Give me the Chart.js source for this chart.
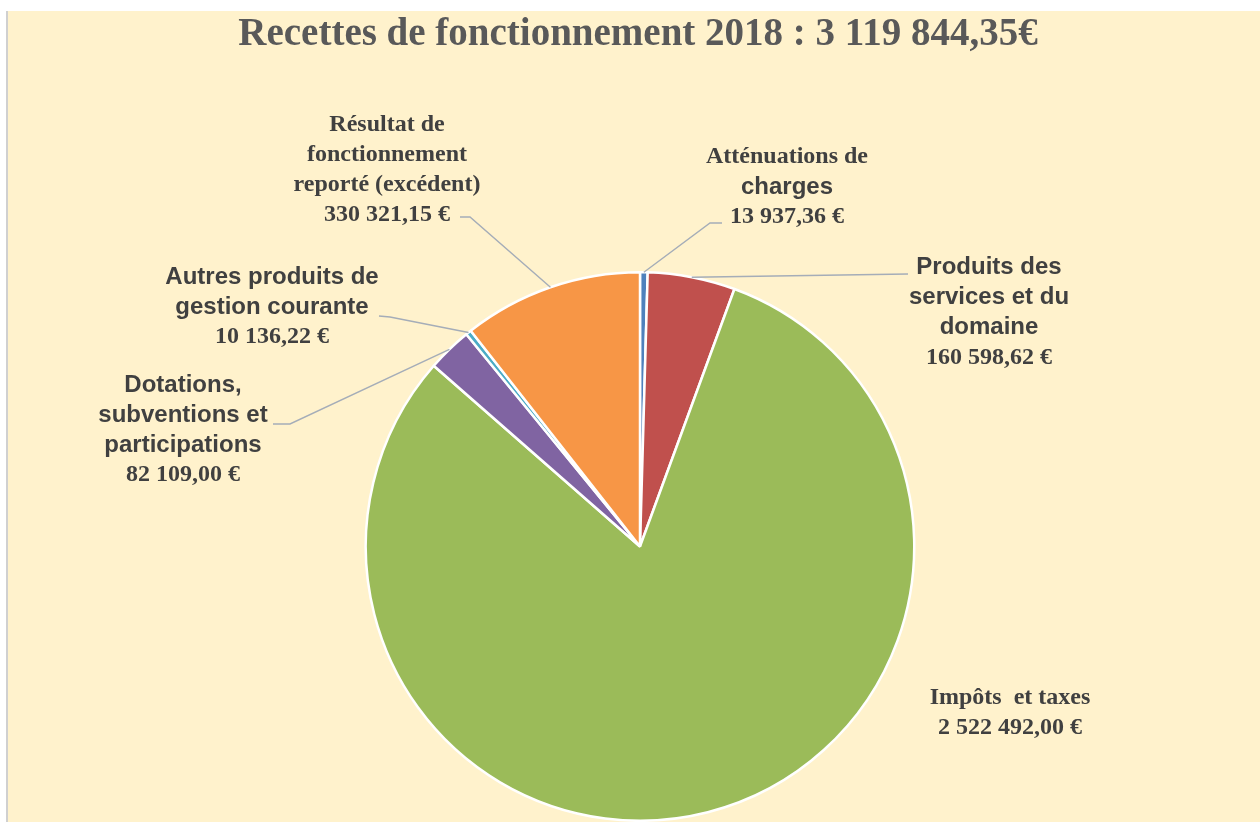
<!DOCTYPE html>
<html><head><meta charset="utf-8">
<script src="https://cdn.jsdelivr.net/npm/chart.js@4.4.1/dist/chart.umd.min.js"></script>
<style>html,body{margin:0;padding:0;background:#fff;overflow:hidden}canvas{display:block}</style>
</head><body>
<canvas id="c" width="1260" height="822"></canvas>
<script>
// ---- data ----
const titleText = "Recettes de fonctionnement 2018 : 3 119 844,35€";
const categories = [
  "Atténuations de charges",
  "Produits des services et du domaine",
  "Impôts et taxes",
  "Dotations, subventions et participations",
  "Autres produits de gestion courante",
  "Résultat de fonctionnement reporté (excédent)"
];
const values = [13937.36, 160598.62, 2522492.00, 82109.00, 10136.22, 330321.15];
// label text lines per category, with font family kind ('s' = serif, 'a' = sans)
const labelLines = [
  [["Atténuations de","s"],["charges","a"]],
  [["Produits des","a"],["services et du","a"],["domaine","a"]],
  [["Impôts  et taxes","s"]],
  [["Dotations,","a"],["subventions et","a"],["participations","a"]],
  [["Autres produits de","a"],["gestion courante","a"]],
  [["Résultat de","s"],["fonctionnement","s"],["reporté (excédent)","s"]]
];
const colors = ["#4F81BD","#C0504D","#9BBB59","#8064A2","#4BACC6","#F79646"];

// ---- layout of labels (style/position only) ----
const labelLayout = [
  {cx:787, y0:157, lh:30, lead:[[722,223],[710,223]]},
  {cx:989, y0:267, lh:30.3, lead:[[908,274]]},
  {cx:1010, y0:698, lh:30, lead:null},
  {cx:183, y0:385, lh:30, lead:[[273,424],[290,424]]},
  {cx:272, y0:277, lh:30, lead:[[379,316],[390,317]]},
  {cx:387, y0:125, lh:30, lead:[[460,217],[470,217]]}
];

function fmtEuro(v){
  const parts = v.toFixed(2).split('.');
  const int = parts[0].replace(/\B(?=(\d{3})+(?!\d))/g,' ');
  return int + ',' + parts[1] + ' €';
}

const SERIF = 'bold 24px "Liberation Serif", "DejaVu Serif", serif';
const SANS = 'bold 24px "Liberation Sans", Arial, sans-serif';

const bgPlugin = {
  id:'bg',
  beforeDraw(chart){
    const ctx = chart.ctx;
    ctx.save();
    ctx.fillStyle = '#ffffff';
    ctx.fillRect(0,0,chart.width,chart.height);
    ctx.fillStyle = '#FFF2CC';
    ctx.fillRect(8,11,chart.width-8,chart.height-11);
    ctx.fillStyle = '#D0D0D0';
    ctx.fillRect(6,11,2,chart.height-11);
    // title
    ctx.fillStyle = '#595959';
    ctx.font = 'bold 39px "Liberation Serif", "DejaVu Serif", serif';
    ctx.textAlign = 'center';
    ctx.textBaseline = 'middle';
    ctx.fillText(titleText, 638, 35);
    ctx.restore();
  }
};

const labelPlugin = {
  id:'labels',
  afterDatasetsDraw(chart){
    const ctx = chart.ctx;
    const meta = chart.getDatasetMeta(0);
    ctx.save();
    meta.data.forEach((arc, i) => {
      const L = labelLayout[i];
      const p = arc.getProps(['x','y','startAngle','endAngle','outerRadius'], true);
      const mid = (p.startAngle + p.endAngle)/2;
      const ax = p.x + Math.cos(mid)*p.outerRadius;
      const ay = p.y + Math.sin(mid)*p.outerRadius;
      if (L.lead){
        ctx.strokeStyle = '#A5ADB8';
        ctx.lineWidth = 1.4;
        ctx.beginPath();
        ctx.moveTo(L.lead[0][0], L.lead[0][1]);
        for (let k=1;k<L.lead.length;k++) ctx.lineTo(L.lead[k][0], L.lead[k][1]);
        ctx.lineTo(ax, ay);
        ctx.stroke();
      }
      const lines = labelLines[i].concat([[fmtEuro(values[i]),"s"]]);
      ctx.fillStyle = '#404040';
      ctx.textAlign = 'center';
      ctx.textBaseline = 'middle';
      lines.forEach((ln, j) => {
        ctx.font = ln[1] === 's' ? SERIF : SANS;
        ctx.fillText(ln[0], L.cx, L.y0 + j*L.lh);
      });
    });
    ctx.restore();
  }
};

new Chart(document.getElementById('c'), {
  type:'pie',
  data:{
    labels:categories,
    datasets:[{data:values, backgroundColor:colors, borderColor:'#ffffff', borderWidth:2.5}]
  },
  options:{
    responsive:false,
    animation:false,
    layout:{padding:{top:271, bottom:0, left:20, right:0}},
    plugins:{legend:{display:false}, tooltip:{enabled:false}, title:{display:false}}
  },
  plugins:[bgPlugin, labelPlugin]
});
</script>
</body></html>
